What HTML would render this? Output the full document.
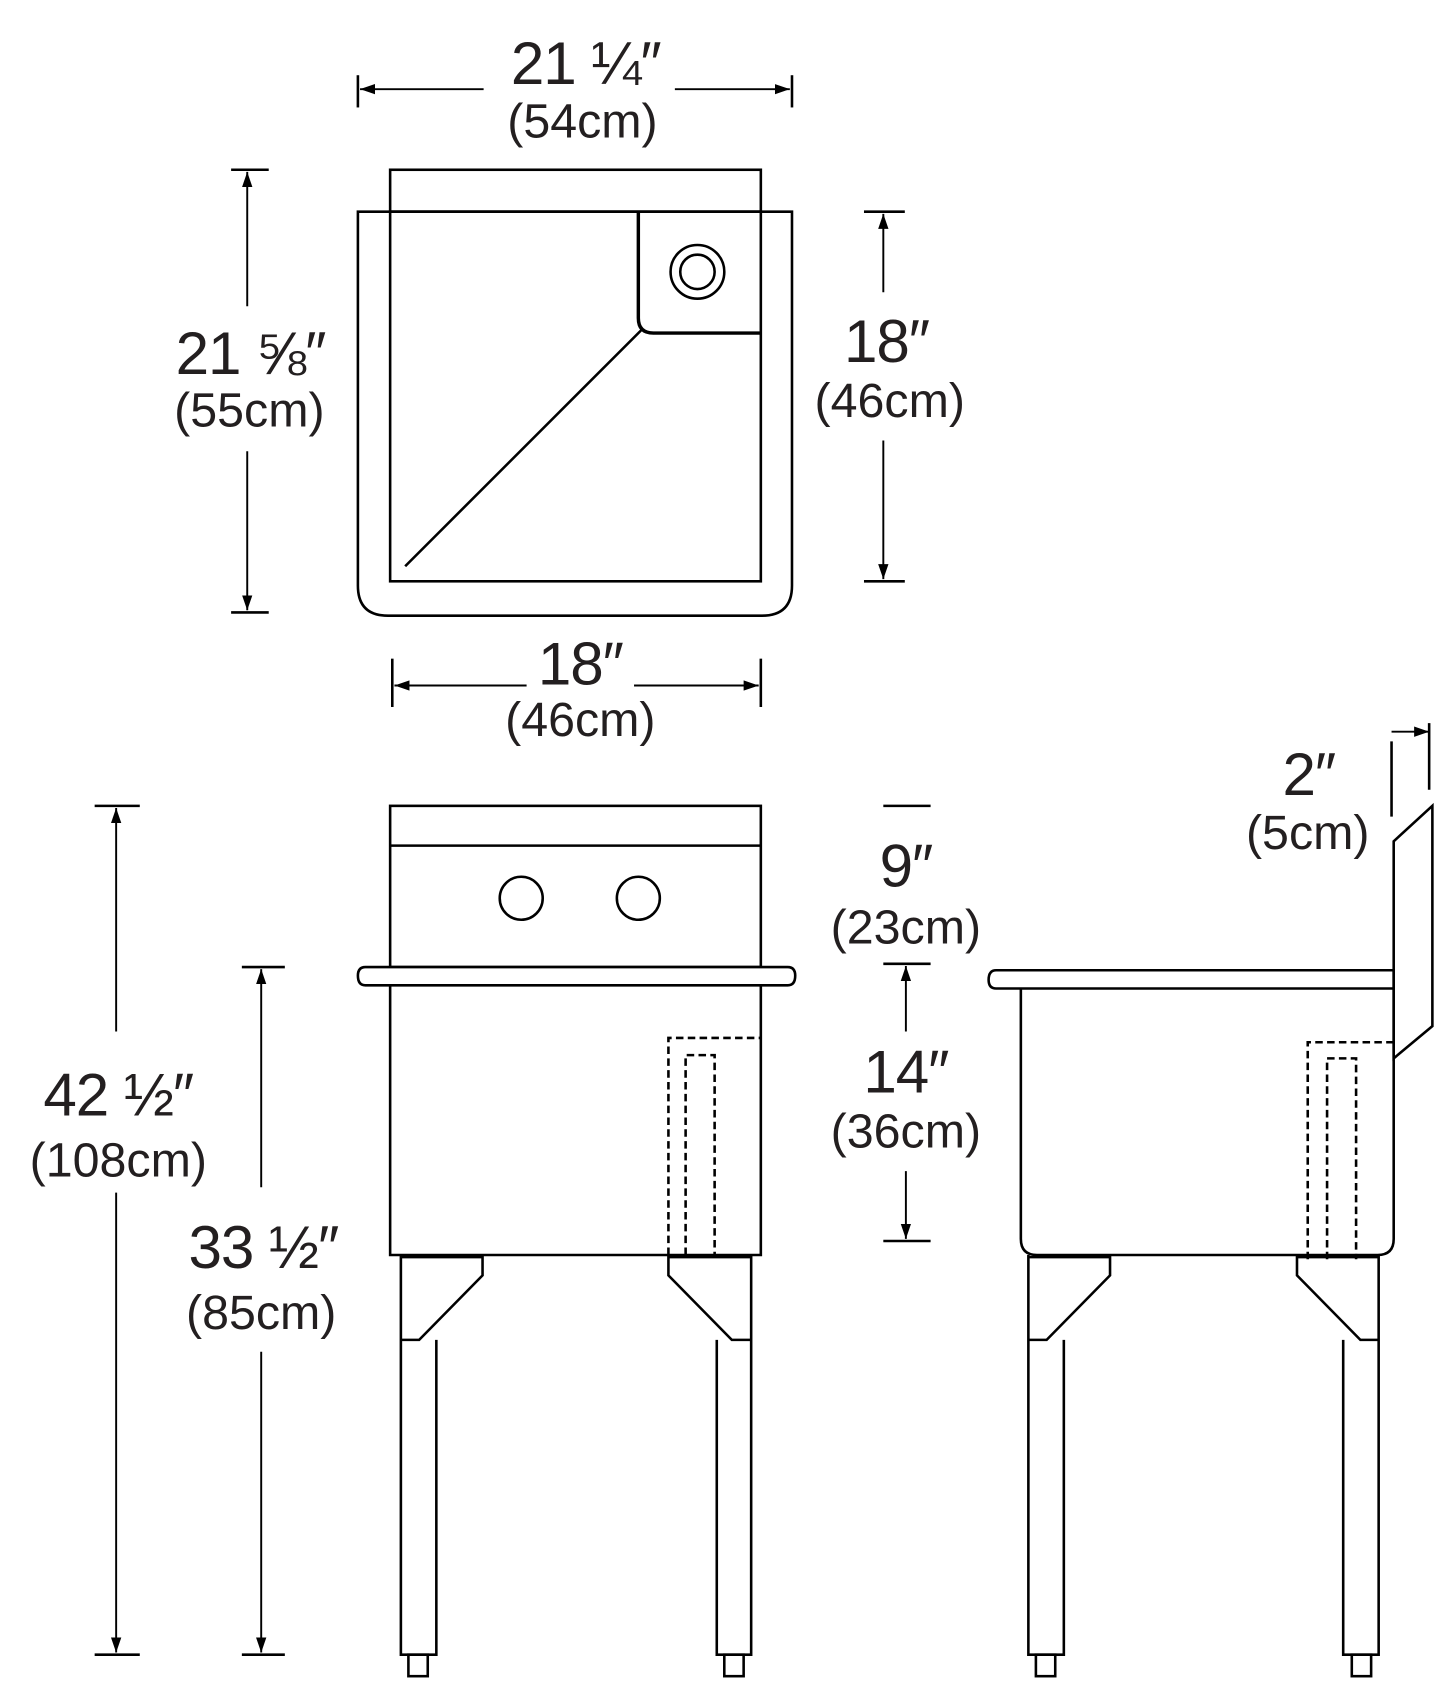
<!DOCTYPE html>
<html><head><meta charset="utf-8"><style>
html,body{margin:0;padding:0;background:#fff;}
svg{display:block;}
text{font-family:"Liberation Sans",sans-serif;fill:#231f20;text-anchor:middle;}
.b{font-size:56px;letter-spacing:-1px;}
.s{font-size:45px;}
</style></head><body>
<svg width="1440" height="1688" viewBox="0 0 1340 1571" xmlns="http://www.w3.org/2000/svg">
<defs>
<marker id="a" viewBox="0 0 10 10" refX="10" refY="5" markerWidth="14" markerHeight="12" markerUnits="userSpaceOnUse" orient="auto" preserveAspectRatio="none"><path d="M0,1 L10,5 L0,9 Z" fill="#000"/></marker>
</defs>
<g stroke="#000" stroke-width="2.4" fill="none">
<!-- TOP VIEW -->
<line x1="333" y1="70" x2="333" y2="100"/><line x1="737" y1="70" x2="737" y2="100"/>
<line x1="450" y1="83" x2="335" y2="83" marker-end="url(#a)" stroke-width="1.8"/>
<line x1="628" y1="83" x2="735" y2="83" marker-end="url(#a)" stroke-width="1.8"/>
<rect x="363" y="158" width="345" height="39"/>
<path d="M333,197 V545 Q333,573 361,573 H709 Q737,573 737,545 V197 Z"/>
<rect x="363" y="197" width="345" height="344"/>
<path d="M594,197 V296 Q594,310 608,310 H708" stroke-width="3.2"/>
<circle cx="649" cy="253" r="25"/><circle cx="649" cy="253" r="16"/>
<line x1="597" y1="307" x2="377" y2="527"/>
<line x1="215" y1="158" x2="250" y2="158"/><line x1="215" y1="570" x2="250" y2="570"/>
<line x1="230" y1="285" x2="230" y2="160" marker-end="url(#a)" stroke-width="1.8"/>
<line x1="230" y1="420" x2="230" y2="568" marker-end="url(#a)" stroke-width="1.8"/>
<line x1="804" y1="197" x2="842" y2="197"/><line x1="804" y1="541" x2="842" y2="541"/>
<line x1="822" y1="272" x2="822" y2="199" marker-end="url(#a)" stroke-width="1.8"/>
<line x1="822" y1="410" x2="822" y2="539" marker-end="url(#a)" stroke-width="1.8"/>
<line x1="365" y1="613" x2="365" y2="658"/><line x1="708" y1="613" x2="708" y2="658"/>
<line x1="490" y1="638" x2="367" y2="638" marker-end="url(#a)" stroke-width="1.8"/>
<line x1="590" y1="638" x2="706" y2="638" marker-end="url(#a)" stroke-width="1.8"/>
<!-- FRONT VIEW -->
<rect x="363" y="750" width="345" height="150"/>
<line x1="363" y1="787" x2="708" y2="787"/>
<circle cx="485" cy="836" r="20"/><circle cx="594" cy="836" r="20"/>
<path d="M340,900 H733 Q740,900 740,908 Q740,917 733,917 H340 Q333,917 333,908 Q333,900 340,900 Z" fill="#fff"/>
<path d="M363,917 V1168 H708 V917"/>
<path d="M622,1168 V966 H708" stroke-dasharray="7,4"/>
<path d="M638,1168 V982 H665 V1168" stroke-dasharray="7,4"/>
<path d="M373,1168 V1540 H406 V1247"/>
<path d="M373,1170 H449 V1187 L390,1247 H373"/>
<rect x="380" y="1540" width="18" height="20"/>
<path d="M699,1168 V1540 H667 V1247"/>
<path d="M699,1170 H622 V1187 L681,1247 H699"/>
<rect x="674" y="1540" width="18" height="20"/>
<line x1="88" y1="750" x2="130" y2="750"/><line x1="88" y1="1540" x2="130" y2="1540"/>
<line x1="108" y1="960" x2="108" y2="752" marker-end="url(#a)" stroke-width="1.8"/>
<line x1="108" y1="1110" x2="108" y2="1538" marker-end="url(#a)" stroke-width="1.8"/>
<line x1="225" y1="900" x2="265" y2="900"/><line x1="225" y1="1540" x2="265" y2="1540"/>
<line x1="243" y1="1105" x2="243" y2="902" marker-end="url(#a)" stroke-width="1.8"/>
<line x1="243" y1="1258" x2="243" y2="1538" marker-end="url(#a)" stroke-width="1.8"/>
<line x1="822" y1="750" x2="866" y2="750"/>
<line x1="822" y1="897" x2="866" y2="897"/>
<line x1="843" y1="960" x2="843" y2="899" marker-end="url(#a)" stroke-width="1.8"/>
<line x1="843" y1="1090" x2="843" y2="1153" marker-end="url(#a)" stroke-width="1.8"/>
<line x1="822" y1="1155" x2="866" y2="1155"/>
<!-- SIDE VIEW -->
<path d="M927,903 H1297 V920 H927 Q920,920 920,912 Q920,903 927,903 Z" fill="#fff"/>
<path d="M950,920 V1153 Q950,1168 965,1168 H1282 Q1297,1168 1297,1153 V920"/>
<path d="M1297,985 V783 L1333,750 V955 Z"/>
<path d="M1217,1172 V970 H1297" stroke-dasharray="7,4"/>
<path d="M1235,1172 V985 H1262 V1172" stroke-dasharray="7,4"/>
<path d="M957,1168 V1540 H990 V1247"/>
<path d="M957,1170 H1033 V1187 L974,1247 H957"/>
<rect x="964" y="1540" width="18" height="20"/>
<path d="M1283,1168 V1540 H1250 V1247"/>
<path d="M1283,1170 H1207 V1187 L1266,1247 H1283"/>
<rect x="1258" y="1540" width="18" height="20"/>
<line x1="1295" y1="690" x2="1295" y2="760"/><line x1="1330" y1="673" x2="1330" y2="735"/>
<line x1="1295" y1="681" x2="1330" y2="681" marker-end="url(#a)" stroke-width="1.8"/>
</g>
<text class="b" x="545" y="78">21 ¼″</text><text class="s" x="542" y="128">(54cm)</text>
<text class="b" x="233" y="348">21 ⅝″</text><text class="s" x="232" y="397">(55cm)</text>
<text class="b" x="825" y="337">18″</text><text class="s" x="828" y="388">(46cm)</text>
<text class="b" x="540" y="637">18″</text><text class="s" x="540" y="685">(46cm)</text>
<text class="b" x="110" y="1038">42 ½″</text><text class="s" x="110" y="1095">(108cm)</text>
<text class="b" x="245" y="1180">33 ½″</text><text class="s" x="243" y="1237">(85cm)</text>
<text class="b" x="843" y="825">9″</text><text class="s" x="843" y="878">(23cm)</text>
<text class="b" x="843" y="1017">14″</text><text class="s" x="843" y="1068">(36cm)</text>
<text class="b" x="1218" y="740">2″</text><text class="s" x="1217" y="790">(5cm)</text>
</svg>
</body></html>
